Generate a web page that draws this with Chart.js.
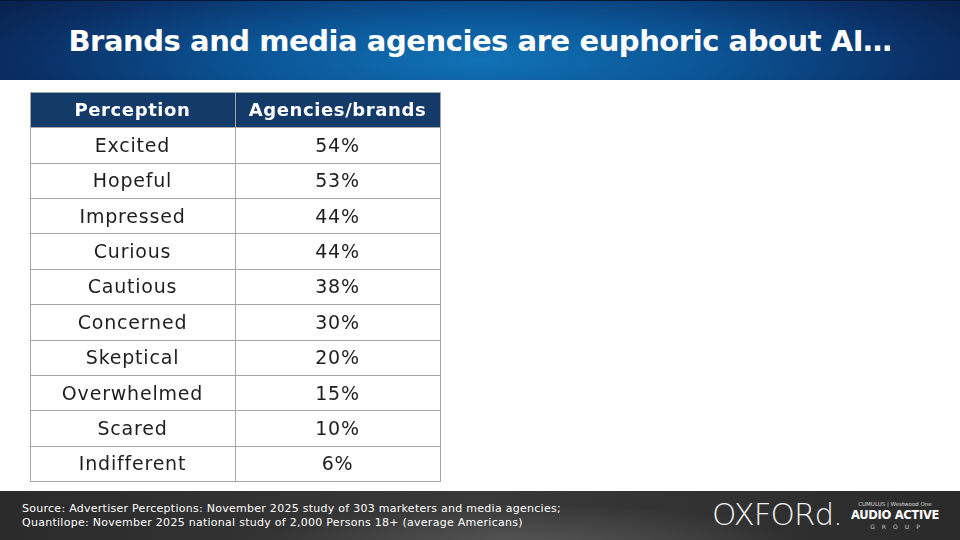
<!DOCTYPE html>
<html>
<head>
<meta charset="utf-8">
<script src="https://cdn.jsdelivr.net/npm/chart.js@4.4.1/dist/chart.umd.min.js"></script>
<style>
  html, body { margin: 0; padding: 0; width: 960px; height: 540px; overflow: hidden; background: #fff; }
  #band {
    position: absolute; left: 0; top: 0; width: 960px; height: 80px;
    background: radial-gradient(ellipse 60% 140% at 50% 75%, #1173b6 0%, #0b5596 40%, #0a2e63 80%, #09204c 100%);
    border-top: 1px solid #061636;
    box-sizing: border-box;
  }
  #title {
    position: absolute; left: 0; top: 23px; width: 960px; text-align: center;
    font-family: "DejaVu Sans", sans-serif; font-weight: bold; font-size: 29px;
    color: #fff; letter-spacing: -0.45px;
  }
  #foot {
    position: absolute; left: 0; top: 491px; width: 960px; height: 49px;
    background:
      radial-gradient(ellipse 40% 120% at 55% 110%, rgba(110,110,110,0.55) 0%, rgba(80,80,80,0) 70%),
      linear-gradient(90deg, #2b2b2b 0%, #393939 50%, #2a2a2a 100%);
  }
  #source {
    position: absolute; left: 22px; top: 11px; white-space: nowrap;
    font-family: "DejaVu Sans", sans-serif; font-size: 11px; line-height: 14px; color: #fff;
    letter-spacing: 0.27px;
  }
  #oxford {
    position: absolute; left: 712px; top: 5px;
    font-family: "DejaVu Sans", sans-serif; font-weight: 200; font-size: 31px; color: #eee;
    letter-spacing: -1px;
  }
  #aag { position: absolute; left: 846px; top: 9px; width: 98px; text-align: center; color: #fff; font-family: "DejaVu Sans", sans-serif; white-space: nowrap; }
  #aag .top { font-size: 5.5px; color: #ddd; line-height: 8px; }
  #aag .mid { font-size: 11.5px; font-weight: bold; letter-spacing: -0.3px; line-height: 14px; }
  #aag .bot { font-size: 6px; letter-spacing: 7px; color: #ccc; line-height: 9px; padding-left: 7px; }
  #wrap { position: absolute; left: 0; top: 0; width: 960px; height: 540px; }
</style>
</head>
<body>
<div id="band"><div id="title">Brands and media agencies are euphoric about AI…</div></div>
<div id="wrap"><canvas id="tableChart" width="960" height="540"></canvas></div>
<div id="foot">
  <div id="source">Source: Advertiser Perceptions: November 2025 study of 303 marketers and media agencies;<br>Quantilope: November 2025 national study of 2,000 Persons 18+ (average Americans)</div>
  <div id="oxford">OXFORd.</div>
  <div id="aag"><div class="top">CUMULUS | Westwood One</div><div class="mid">AUDIO ACTIVE</div><div class="bot">GROUP</div></div>
</div>
<script>
const columns = ['Perception', 'Agencies/brands'];
const perceptions = ['Excited', 'Hopeful', 'Impressed', 'Curious', 'Cautious', 'Concerned', 'Skeptical', 'Overwhelmed', 'Scared', 'Indifferent'];
const agencyShare = [54, 53, 44, 44, 38, 30, 20, 15, 10, 6];

const rows = ['header'].concat(perceptions);

// draws the cells of the table from the two category scales
const tablePlugin = {
    id: 'tableCells',
    afterDraw(chart) {
        const ctx = chart.ctx;
        const xs = chart.scales.x, ys = chart.scales.y;
        const colW = xs.getPixelForValue(1) - xs.getPixelForValue(0);
        const rowH = ys.getPixelForValue(1) - ys.getPixelForValue(0);
        ctx.save();
        rows.forEach((r, i) => {
            const cy = ys.getPixelForValue(i);
            const top = Math.round(cy - rowH / 2), bot = Math.round(cy + rowH / 2);
            columns.forEach((c, j) => {
                const cx = xs.getPixelForValue(j);
                const left = Math.round(cx - colW / 2), right = Math.round(cx + colW / 2);
                let text;
                if (i === 0) {
                    ctx.fillStyle = '#133a69';
                    ctx.fillRect(left, top, right - left, bot - top);
                    ctx.fillStyle = '#fff';
                    ctx.font = 'bold 18px "DejaVu Sans"';
                    ctx.letterSpacing = '0.6px';
                    text = c;
                } else {
                    ctx.fillStyle = '#fff';
                    ctx.fillRect(left, top, right - left, bot - top);
                    ctx.fillStyle = '#1e1e1e';
                    ctx.font = '19px "DejaVu Sans"';
                    ctx.letterSpacing = '0.8px';
                    text = j === 0 ? perceptions[i - 1] : agencyShare[i - 1] + '%';
                }
                ctx.textAlign = 'center';
                ctx.textBaseline = 'middle';
                ctx.fillText(text, cx, cy + 2);
                ctx.strokeStyle = '#a6a6a6';
                ctx.lineWidth = 1;
                ctx.strokeRect(left + 0.5, top + 0.5, right - left, bot - top);
            });
        });
        ctx.restore();
    }
};

new Chart(document.getElementById('tableChart'), {
    type: 'bar',
    data: { labels: rows, datasets: [] },
    options: {
        responsive: false,
        animation: false,
        layout: { padding: { left: 30, right: 520, top: 92, bottom: 59 } },
        plugins: { legend: { display: false }, tooltip: { enabled: false } },
        scales: {
            x: { type: 'category', labels: columns, offset: true, display: false },
            y: { type: 'category', labels: rows, offset: true, display: false }
        }
    },
    plugins: [tablePlugin]
});
</script>
</body>
</html>
